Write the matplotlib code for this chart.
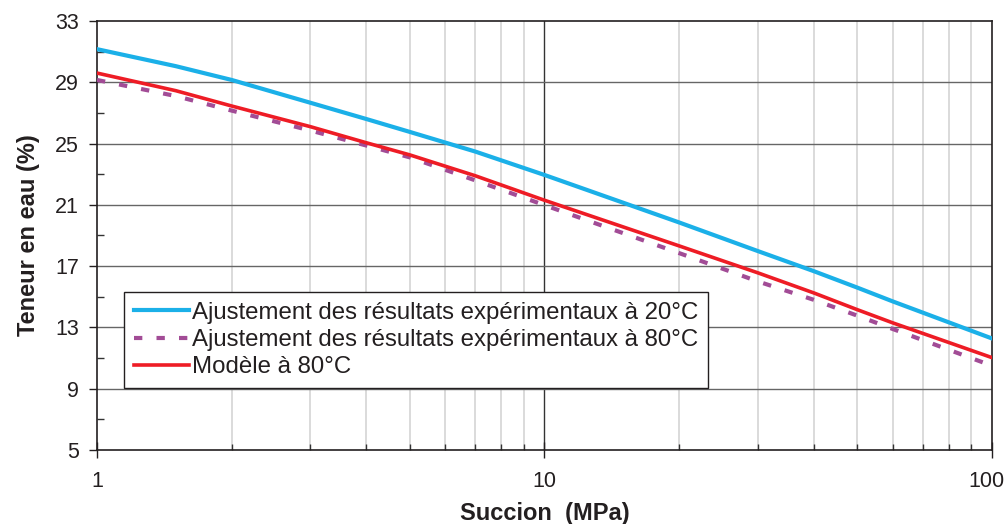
import matplotlib
matplotlib.use("Agg")
import matplotlib.pyplot as plt
from matplotlib.ticker import FixedLocator, NullFormatter
from matplotlib.transforms import ScaledTranslation

plt.rcParams['font.family'] = ['Liberation Sans', 'DejaVu Sans']

# data
succion = [1, 1.5, 2, 3, 4, 5, 7, 10, 20, 30, 40, 50, 60, 100]
teneur_20 = [31.16, 30.05, 29.15, 27.66, 26.6, 25.76, 24.48, 22.95, 19.85, 17.98, 16.67, 15.6, 14.7, 12.28]
teneur_80 = [29.15, 28.1, 27.15, 25.85, 24.87, 24.1, 22.6, 20.98, 17.85, 16.0, 14.8, 13.77, 12.9, 10.5]
modele_80 = [29.6, 28.45, 27.45, 26.1, 25.05, 24.26, 22.9, 21.3, 18.32, 16.56, 15.25, 14.16, 13.3, 11.03]

labels = ["Ajustement des résultats expérimentaux à 20°C",
          "Ajustement des résultats expérimentaux à 80°C",
          "Modèle à 80°C"]
y_major = [5, 9, 13, 17, 21, 25, 29, 33]
y_minor = [7, 11, 15, 19, 23, 27, 31]
x_major = [1, 10, 100]
x_minor = [2, 3, 4, 5, 6, 7, 8, 9, 20, 30, 40, 50, 60, 70, 80, 90]

txt = '#231f20'

fig = plt.figure(figsize=(10.05, 5.24), dpi=100)
ax = fig.add_axes([0.0965, 0.1412, 0.8905, 0.8188])

ax.set_xscale('log')
ax.set_xlim(1, 100)
ax.set_ylim(5, 33)

# grid
for xv in x_minor:
    ax.axvline(xv, color='#d4d4d4', lw=1.2, zorder=0)
ax.axvline(10, color='#333333', lw=1.0, zorder=0)
for yv in y_major[1:-1]:
    ax.axhline(yv, color='#666666', lw=1.0, zorder=0)

ax.plot(succion, teneur_20, color='#1bb0e8', lw=3.0, label=labels[0], zorder=3)
ax.plot(succion, teneur_80, color='#a24c96', lw=3.0, dashes=(2.0, 3.4),
        dash_capstyle='butt', label=labels[1], zorder=3)
ax.plot(succion, modele_80, color='#ee1c25', lw=2.6, label=labels[2], zorder=4)

ax.xaxis.set_major_locator(FixedLocator(x_major))
ax.xaxis.set_minor_locator(FixedLocator(x_minor))
ax.xaxis.set_minor_formatter(NullFormatter())
ax.set_xticklabels(['1', '10', '100'])
ax.yaxis.set_major_locator(FixedLocator(y_major))
ax.yaxis.set_minor_locator(FixedLocator(y_minor))

ax.tick_params(axis='x', which='major', direction='inout', length=12, width=1, colors=txt,
               labelsize=15.5, pad=9)
ax.tick_params(axis='x', which='minor', direction='in', length=4, width=1, color='#333333')
ax.tick_params(axis='y', which='major', direction='out', length=6, width=1, colors=txt,
               labelsize=15.5, pad=7)
ax.tick_params(axis='y', which='minor', direction='in', length=5, width=1, color='#333333')

# keep "100" inside the picture
last = ax.get_xticklabels()[-1]
last.set_transform(last.get_transform() + ScaledTranslation(-5 / 100, 0, fig.dpi_scale_trans))

for sp in ax.spines.values():
    sp.set_color('#231f20')
    sp.set_linewidth(1.2)

ax.set_xlabel("Succion  (MPa)", fontsize=17, fontweight='bold', color=txt, labelpad=7)
ax.set_ylabel("Teneur en eau (%)", fontsize=17, fontweight='bold', color=txt, labelpad=11)

leg = ax.legend(loc='upper left', bbox_to_anchor=(0.0303, 0.369), fontsize=17.3,
                frameon=True, fancybox=False, edgecolor='#231f20', framealpha=1,
                handlelength=2.3, handletextpad=0.1, labelspacing=0.22,
                borderpad=0.42, borderaxespad=0)
leg.get_frame().set_linewidth(1.0)
for t in leg.get_texts():
    t.set_color(txt)

fig.savefig('out.png', dpi=100)
